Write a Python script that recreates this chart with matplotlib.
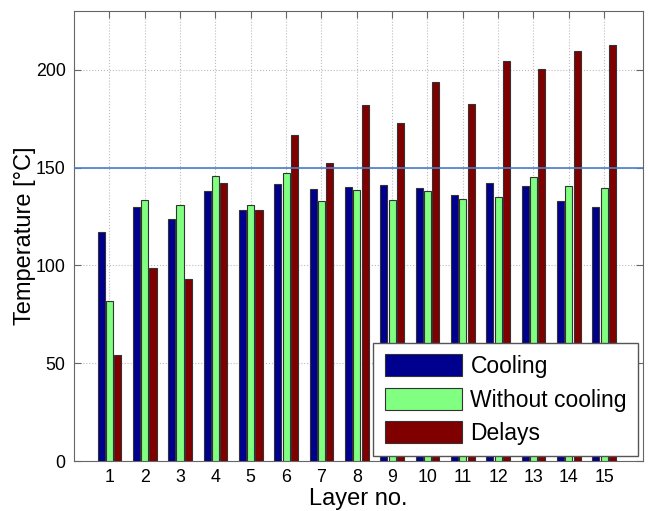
import matplotlib
matplotlib.use("Agg")
import matplotlib.pyplot as plt
import numpy as np

plt.rcParams['font.family'] = ['Liberation Sans', 'DejaVu Sans']

layers = list(range(1, 16))
cooling = [117, 129.7, 123.6, 138.1, 128.5, 141.5, 138.8, 139.8, 141, 139.5,
           135.9, 142.2, 140.7, 132.7, 129.6]
without_cooling = [81.7, 133.2, 131.1, 145.6, 130.8, 147, 133, 138.6, 133.5, 138,
                   133.8, 134.7, 145, 140.5, 139.3]
delays = [54, 98.5, 92.8, 141.9, 128.2, 166.7, 152.1, 182, 172.8, 193.7,
          182.7, 204.6, 200.2, 209.4, 212.7]
limit = 150

fig = plt.figure(figsize=(6.48, 5.11), dpi=100)
ax = fig.add_axes([74 / 648, 50 / 511, (643 - 74) / 648, (461 - 11) / 511])

x = np.array(layers)
w = 0.2
step = 0.235
edge = dict(edgecolor='#333333', linewidth=0.8)
ax.bar(x - step, cooling, w, color='#00008F', label='Cooling', zorder=3, **edge)
ax.bar(x, without_cooling, w, color='#80FF80', label='Without cooling', zorder=3, **edge)
ax.bar(x + step, delays, w, color='#800000', label='Delays', zorder=3, **edge)

ax.axhline(limit, color='#4A7CC8', linewidth=1.2, zorder=4)

ax.set_xlim(0, 16.1)
ax.set_ylim(0, 230)
ax.set_xticks(layers)
ax.set_yticks([0, 50, 100, 150, 200])
ax.grid(True, linestyle=':', color='#bbbbbb', linewidth=0.8, zorder=0)

for sp in ax.spines.values():
    sp.set_color('#666666')
ax.tick_params(direction='in', top=True, right=True, length=5, color='#666666',
               labelsize=12.8, pad=6)

ax.set_xlabel('Layer no.', fontsize=17, labelpad=1)
ax.set_ylabel('Temperature [°C]', fontsize=17, labelpad=0)

leg = ax.legend(loc='lower right', fontsize=16.5, handlelength=3.4, handleheight=1.1,
                fancybox=False, framealpha=1, edgecolor='#555555',
                borderaxespad=0.2, labelspacing=0.42, handletextpad=0.35,
                borderpad=0.5)
leg.get_frame().set_linewidth(1.0)

plt.savefig('out.png', dpi=100)
